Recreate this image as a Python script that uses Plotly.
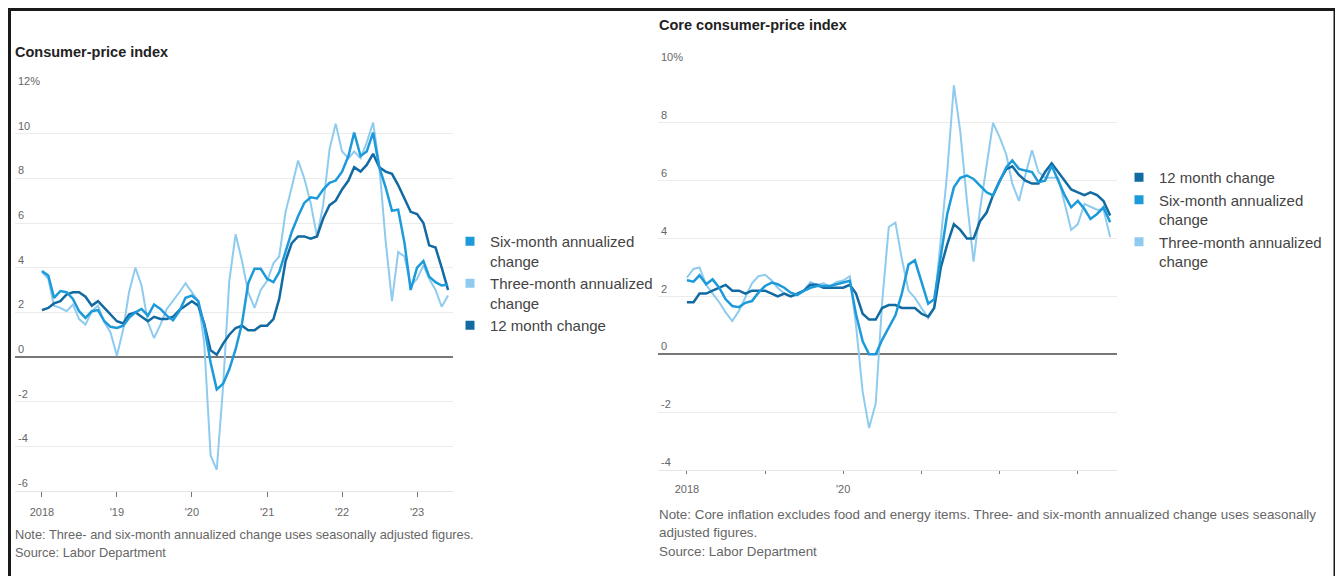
import pandas as pd
import plotly.graph_objects as go

# Browser body margin (8px) offsets the figure; build in viewport coordinates.
OFF = 8
W, H = 1343 - OFF, 576 - OFF

def px(x):
    return (x - OFF) / W

def py(y):
    return 1 - (y - OFF) / H

months = pd.date_range("2018-01-01", periods=66, freq="MS")
year_ticks = ["2018-01-01", "2019-01-01", "2020-01-01", "2021-01-01", "2022-01-01", "2023-01-01"]
left_year_labels = ["2018", "'19", "'20", "'21", "'22", "'23"]
right_year_labels = ["2018", "", "'20", "", "", ""]

# Consumer-price index (headline), % change
cpi_12m = [2.1, 2.2, 2.4, 2.5, 2.8, 2.9, 2.9, 2.7, 2.3, 2.5, 2.2, 1.9,
           1.6, 1.5, 1.9, 2.0, 1.8, 1.6, 1.8, 1.7, 1.7, 1.8, 2.1, 2.3,
           2.5, 2.3, 1.5, 0.3, 0.1, 0.6, 1.0, 1.3, 1.4, 1.2, 1.2, 1.4,
           1.4, 1.7, 2.6, 4.3, 5.1, 5.4, 5.4, 5.3, 5.4, 6.2, 6.8, 7.0,
           7.5, 7.9, 8.5, 8.3, 8.6, 9.1, 8.5, 8.3, 8.2, 7.7, 7.1, 6.5,
           6.4, 6.0, 5.0, 4.9, 4.0, 3.0]
cpi_6m = [3.85, 3.65, 2.65, 2.95, 2.9, 2.6, 2.05, 1.75, 2.05, 2.1, 1.6, 1.35,
          1.3, 1.4, 1.75, 2.0, 2.15, 1.85, 2.35, 2.15, 1.85, 1.65, 2.05, 2.65,
          2.75, 2.5, 1.4, -0.25, -1.45, -1.2, -0.55, 0.35, 1.5, 3.3, 3.95, 3.95,
          3.5, 3.35, 3.8, 4.7, 5.6, 6.3, 6.9, 7.15, 7.1, 7.5, 7.8, 7.9,
          8.3, 9.0, 10.05, 9.0, 9.2, 10.05, 8.5, 7.6, 6.55, 6.6, 5.1, 3.0,
          4.0, 4.3, 3.6, 3.35, 3.2, 3.25]
cpi_3m = [3.8, 3.5, 2.3, 2.2, 2.05, 2.35, 1.7, 1.45, 2.05, 2.3, 1.55, 1.1,
          0.05, 1.25, 2.9, 4.0, 3.2, 1.55, 0.85, 1.45, 2.15, 2.5, 2.9, 3.3,
          2.9, 2.5, 0.65, -4.4, -5.05, -1.3, 3.4, 5.5, 4.3, 2.9, 2.2, 3.0,
          3.4, 4.2, 4.5, 6.5, 7.6, 8.8, 8.0, 6.9, 5.4, 6.8, 9.3, 10.45,
          9.2, 8.9, 9.2, 8.9, 9.6, 10.5, 8.6, 5.2, 2.5, 4.7, 4.5, 3.2,
          3.5, 4.1, 3.5, 3.0, 2.25, 2.75]

# Core consumer-price index, % change
core_12m = [1.8, 1.8, 2.1, 2.1, 2.2, 2.3, 2.4, 2.2, 2.2, 2.1, 2.2, 2.2,
            2.2, 2.1, 2.0, 2.1, 2.0, 2.1, 2.2, 2.4, 2.4, 2.3, 2.3, 2.3,
            2.3, 2.4, 2.1, 1.4, 1.2, 1.2, 1.6, 1.7, 1.7, 1.6, 1.6, 1.6,
            1.4, 1.3, 1.6, 3.0, 3.8, 4.5, 4.3, 4.0, 4.0, 4.6, 4.9, 5.5,
            6.0, 6.4, 6.5, 6.2, 6.0, 5.9, 5.9, 6.3, 6.6, 6.3, 6.0, 5.7,
            5.6, 5.5, 5.6, 5.5, 5.3, 4.8]
core_6m = [2.56, 2.51, 2.73, 2.42, 2.59, 2.3, 1.9, 1.67, 1.63, 1.78, 1.84, 2.13,
           2.36, 2.48, 2.42, 2.3, 2.13, 2.05, 2.19, 2.3, 2.36, 2.36, 2.36, 2.42,
           2.48, 2.54, 1.38, 0.45, 0.0, 0.0, 0.5, 0.95, 1.35, 2.1, 3.1, 3.25,
           2.53, 1.75, 1.9, 3.35, 4.85, 5.77, 6.1, 6.18, 6.06, 5.83, 5.6, 5.49,
           6.0, 6.47, 6.7, 6.41, 6.35, 6.3, 5.95, 6.0, 6.52, 6.0, 5.49, 5.08,
           5.3, 5.02, 4.68, 4.85, 5.08, 4.56]
core_3m = [2.65, 2.95, 3.0, 2.4, 2.1, 1.8, 1.45, 1.15, 1.5, 1.95, 2.45, 2.7,
           2.75, 2.55, 2.3, 2.1, 2.0, 2.05, 2.2, 2.5, 2.4, 2.45, 2.35, 2.5,
           2.55, 2.7, 1.0, -1.3, -2.55, -1.7, 1.8, 4.4, 4.55, 3.3, 2.2, 1.95,
           1.6, 1.25, 1.6, 3.9, 6.3, 9.3, 7.7, 5.3, 3.2, 5.0, 6.6, 8.0,
           7.5, 6.9, 5.9, 5.3, 6.2, 7.05, 6.3, 6.1, 6.1, 6.1, 5.2, 4.3,
           4.5, 5.2, 5.1, 5.0, 5.0, 4.05]

left_y_ticks = [-6, -4, -2, 0, 2, 4, 6, 8, 10, 12]
left_y_labels = ["-6", "-4", "-2", "0", "2", "4", "6", "8", "10", "12%"]
right_y_ticks = [-4, -2, 0, 2, 4, 6, 8, 10]
right_y_labels = ["-4", "-2", "0", "2", "4", "6", "8", "10%"]

C_DARK = "#126aa3"
C_MID = "#1d9ad9"
C_LIGHT = "#8ecbef"
FONT = "Liberation Sans, Arial, sans-serif"

fig = go.Figure()

def add_lines(xa, ya, s3, s6, s12):
    fig.add_trace(go.Scatter(x=months, y=s3, mode="lines", line=dict(color=C_LIGHT, width=2),
                             xaxis=xa, yaxis=ya, showlegend=False, hoverinfo="skip"))
    fig.add_trace(go.Scatter(x=months, y=s12, mode="lines", line=dict(color=C_DARK, width=2.5),
                             xaxis=xa, yaxis=ya, showlegend=False, hoverinfo="skip"))
    fig.add_trace(go.Scatter(x=months, y=s6, mode="lines", line=dict(color=C_MID, width=2.5),
                             xaxis=xa, yaxis=ya, showlegend=False, hoverinfo="skip"))

add_lines("x", "y", cpi_3m, cpi_6m, cpi_12m)
add_lines("x2", "y2", core_3m, core_6m, core_12m)

def legend_entry(name, color, legend, xa, ya):
    fig.add_trace(go.Scatter(x=[None], y=[None], mode="markers", name=name,
                             marker=dict(symbol="square", size=9, color=color),
                             xaxis=xa, yaxis=ya, legend=legend, showlegend=True))

legend_entry("Six-month annualized<br>change", C_MID, "legend", "x", "y")
legend_entry("Three-month annualized<br>change", C_LIGHT, "legend", "x", "y")
legend_entry("12 month change", C_DARK, "legend", "x", "y")
legend_entry("12 month change", C_DARK, "legend2", "x2", "y2")
legend_entry("Six-month annualized<br>change", C_MID, "legend2", "x2", "y2")
legend_entry("Three-month annualized<br>change", C_LIGHT, "legend2", "x2", "y2")

tickfont = dict(family=FONT, size=11, color="#666")

def yaxis(domain, rng, tv, tt):
    return dict(domain=domain, range=rng, tickvals=tv, ticktext=tt,
                ticklabelposition="inside top", ticklabeloverflow="allow",
                showgrid=True, gridcolor="#ebebeb", gridwidth=1,
                zeroline=True, zerolinecolor="#777777", zerolinewidth=1.8,
                showline=False, ticks="", tickfont=tickfont, fixedrange=True,
                automargin=False)

def xaxis(domain, rng, tt, ticklen, standoff):
    return dict(domain=domain, type="date", range=rng, tickvals=year_ticks, ticktext=tt,
                ticks="outside", ticklen=ticklen, tickwidth=1, tickcolor="#777",
                ticklabelstandoff=standoff,
                showgrid=False, showline=True, linecolor="#e6e6e6", linewidth=1,
                zeroline=False, tickfont=tickfont, fixedrange=True, automargin=False)

legend_font = dict(family=FONT, size=15, color="#444")

fig.update_layout(
    width=W, height=H,
    margin=dict(l=0, r=0, t=0, b=0, pad=0, autoexpand=False),
    paper_bgcolor="white", plot_bgcolor="white",
    font=dict(family=FONT, color="#333"),
    xaxis=dict(xaxis([px(15), px(453)], ["2017-08-23", "2023-06-25"], left_year_labels, 5, 6), anchor="y"),
    yaxis=dict(yaxis([py(491), py(89)], [-6, 12], left_y_ticks, left_y_labels), anchor="x"),
    xaxis2=dict(xaxis([px(658), px(1117)], ["2017-08-19", "2023-07-03"], right_year_labels, 3, 6), anchor="y2"),
    yaxis2=dict(yaxis([py(470), py(65)], [-4, 10], right_y_ticks, right_y_labels), anchor="x2"),
    legend=dict(x=px(450), y=py(225), xanchor="left", yanchor="top", bgcolor="rgba(0,0,0,0)",
                font=legend_font, valign="top",
                itemwidth=30, tracegroupgap=0, traceorder="normal"),
    legend2=dict(x=px(1119), y=py(161), xanchor="left", yanchor="top", bgcolor="rgba(0,0,0,0)",
                 font=legend_font, valign="top",
                 itemwidth=30, tracegroupgap=0, traceorder="normal"),
    showlegend=True,
)

def note(text, x, y, size=11.5, color="#666", bold=False):
    fig.add_annotation(text=("<b>%s</b>" % text) if bold else text, x=px(x), y=py(y),
                       xref="paper", yref="paper", xanchor="left", yanchor="middle",
                       showarrow=False, align="left",
                       font=dict(family=FONT, size=size, color=color))

note("Consumer-price index", 13, 52, size=14.5, color="#222", bold=True)
note("Core consumer-price index", 657, 25, size=14.5, color="#222", bold=True)
note("Note: Three- and six-month annualized change uses seasonally adjusted figures.", 13, 534, size=12.8)
note("Source: Labor Department", 13, 552, size=12.8)
note("Note: Core inflation excludes food and energy items. Three- and six-month annualized change uses seasonally", 657, 514, size=13.4)
note("adjusted figures.", 657, 532, size=13.4)
note("Source: Labor Department", 657, 551, size=13.4)

# frame border
for (x0, y0, x1, y1) in [(8, 9.5, 1336, 9.5), (9.5, 8, 9.5, 576), (1335, 8, 1335, 576)]:
    fig.add_shape(type="line", xref="paper", yref="paper", x0=px(x0), y0=py(y0), x1=px(x1), y1=py(y1),
                  line=dict(color="#1a1a1a", width=3))

fig.write_html("out.html")
